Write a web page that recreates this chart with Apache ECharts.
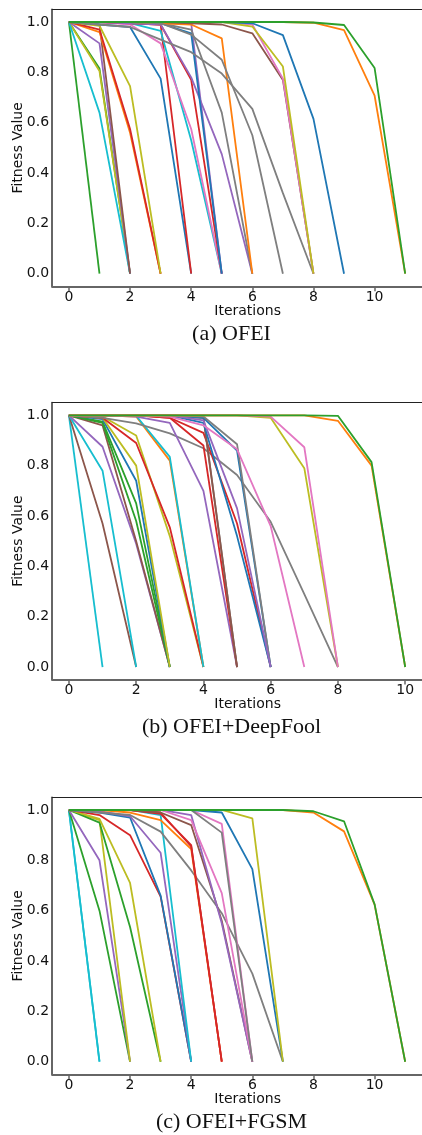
<!DOCTYPE html>
<html><head><meta charset="utf-8">
<script src="https://cdn.jsdelivr.net/npm/echarts@6/dist/echarts.min.js"></script>
<style>html,body{margin:0;padding:0;background:#fff}#c{width:422px;height:1135px}</style>
</head><body><div id="c"></div>
<script>
// matplotlib tab10 palette
const tab10 = {
  blue:'#1f77b4', orange:'#ff7f0e', green:'#2ca02c', red:'#d62728', purple:'#9467bd',
  brown:'#8c564b', pink:'#e377c2', gray:'#7f7f7f', olive:'#bcbd22', cyan:'#17becf'
};

const xTicks = [0, 2, 4, 6, 8, 10];
const yTicks = [0, 0.2, 0.4, 0.6, 0.8, 1.0];
const captions = ['(a) OFEI', '(b) OFEI+DeepFool', '(c) OFEI+FGSM'];

// (a) OFEI — fitness value per iteration (index = iteration)
const ofeiColors = ['green','green','olive','cyan','purple','brown','orange','red','olive','blue',
  'red','cyan','pink','red','purple','purple','blue','gray','orange','gray','gray',
  'brown','pink','olive','blue','orange','green'];
const ofeiValues = [
  [1, 0],
  [1, 0.815, 0],
  [1, 0.805, 0],
  [1, 0.64, 0],
  [1, 0.915, 0],
  [1, 0.99, 0],
  [1, 0.96, 0.56, 0],
  [1, 0.97, 0.575, 0],
  [1, 0.985, 0.745, 0],
  [1, 0.99, 0.98, 0.775, 0],
  [1, 1, 0.995, 0.99, 0],
  [1, 1, 0.995, 0.965, 0.53, 0],
  [1, 1, 0.99, 0.915, 0.575, 0],
  [1, 1, 0.995, 0.99, 0.77, 0],
  [1, 1, 0.995, 0.99, 0.78, 0.475, 0],
  [1, 1, 1, 0.995, 0.995, 0],
  [1, 1, 1, 0.995, 0.955, 0],
  [1, 1, 1, 0.995, 0.97, 0.64, 0],
  [1, 1, 1, 0.995, 0.99, 0.935, 0],
  [1, 1, 1, 0.995, 0.95, 0.85, 0.55, 0],
  [1, 0.99, 0.98, 0.93, 0.88, 0.795, 0.655, 0.32, 0],
  [1, 1, 1, 1, 0.995, 0.99, 0.955, 0.77, 0],
  [1, 1, 1, 1, 1, 1, 0.99, 0.775, 0],
  [1, 1, 1, 1, 1, 1, 0.982, 0.823, 0],
  [1, 1, 1, 1, 1, 1, 0.995, 0.948, 0.615, 0],
  [1, 1, 1, 1, 1, 1, 1, 1, 0.997, 0.968, 0.707, 0],
  [1, 1, 1, 1, 1, 1, 1, 1, 0.998, 0.988, 0.817, 0]
];

// (b) OFEI+DeepFool
const deepfoolColors = ['cyan','brown','cyan','purple','brown','green','green','blue','olive','olive',
  'red','orange','cyan','gray','purple','red','red','gray','brown','blue','gray','blue','purple',
  'pink','olive','pink','orange','green'];
const deepfoolValues = [
  [1, 0],
  [1, 0.57, 0],
  [1, 0.78, 0],
  [1, 0.875, 0.49, 0],
  [1, 0.96, 0.5, 0],
  [1, 0.97, 0.58, 0],
  [1, 0.975, 0.65, 0],
  [1, 0.985, 0.74, 0],
  [1, 0.99, 0.8, 0],
  [1, 0.995, 0.92, 0.52, 0],
  [1, 0.99, 0.89, 0.555, 0],
  [1, 1, 0.995, 0.82, 0],
  [1, 1, 0.998, 0.835, 0],
  [1, 0.99, 0.968, 0.928, 0.869, 0.763, 0.577, 0.29, 0],
  [1, 1, 0.995, 0.97, 0.7, 0],
  [1, 1, 1, 0.99, 0.93, 0.57, 0],
  [1, 1, 1, 0.99, 0.88, 0],
  [1, 1, 1, 1, 0.995, 0],
  [1, 1, 1, 0.995, 0.99, 0],
  [1, 1, 1, 1, 0.99, 0.86, 0],
  [1, 1, 1, 1, 0.995, 0.885, 0],
  [1, 1, 1, 1, 0.97, 0.52, 0],
  [1, 1, 1, 1, 0.98, 0.63, 0],
  [1, 1, 1, 0.995, 0.96, 0.865, 0.56, 0],
  [1, 1, 1, 1, 1, 1, 0.99, 0.79, 0],
  [1, 1, 1, 1, 1, 1, 0.995, 0.873, 0],
  [1, 1, 1, 1, 1, 1, 1, 1, 0.978, 0.8, 0],
  [1, 1, 1, 1, 1, 1, 1, 1, 0.998, 0.814, 0]
];

// (c) OFEI+FGSM
const fgsmColors = ['cyan','cyan','green','purple','olive','green','olive','red','blue','purple',
  'cyan','gray','orange','red','red','brown','purple','pink','pink','gray','blue','olive','orange','green'];
const fgsmValues = [
  [1, 0],
  [1, 0],
  [1, 0.6, 0],
  [1, 0.8, 0],
  [1, 0.96, 0],
  [1, 0.95, 0.535, 0],
  [1, 0.965, 0.71, 0],
  [1, 0.98, 0.9, 0.656, 0],
  [1, 0.99, 0.97, 0.66, 0],
  [1, 0.995, 0.975, 0.83, 0],
  [1, 1, 1, 0.98, 0],
  [1, 0.99, 0.98, 0.914, 0.76, 0.59, 0.35, 0],
  [1, 1, 0.99, 0.96, 0.845, 0],
  [1, 1, 1, 0.985, 0.86, 0],
  [1, 1, 1, 0.99, 0.855, 0],
  [1, 1, 1, 0.99, 0.94, 0.56, 0],
  [1, 1, 1, 1, 0.98, 0.55, 0],
  [1, 1, 1, 1, 0.96, 0.67, 0],
  [1, 1, 1, 1, 1, 0.945, 0],
  [1, 1, 1, 1, 1, 0.91, 0],
  [1, 1, 1, 1, 1, 0.99, 0.765, 0],
  [1, 1, 1, 1, 1, 1, 0.967, 0],
  [1, 1, 1, 1, 1, 1, 1, 1, 0.99, 0.915, 0.624, 0],
  [1, 1, 1, 1, 1, 1, 1, 1, 0.995, 0.955, 0.625, 0]
];

const panels = [
  {colors: ofeiColors, values: ofeiValues, xMin: -0.55, xMax: 11.55, top: 9.4, width: 371.5},
  {colors: deepfoolColors, values: deepfoolValues, xMin: -0.5, xMax: 10.5, top: 402.7, width: 372.1},
  {colors: fgsmColors, values: fgsmValues, xMin: -0.55, xMax: 11.55, top: 797.4, width: 372.3}
];

const LEFT = 52.1, HEIGHT = 276.9;
const spine = '#666';
const sans = 'DejaVu Sans';

const grid = [], xAxis = [], yAxis = [], series = [], graphic = [];
panels.forEach((p, k) => {
  grid.push({left: LEFT, top: p.top, width: p.width, height: HEIGHT, containLabel: false});
  // bottom axis with ticks and labels
  xAxis.push({gridIndex: k, type: 'value', position: 'bottom', min: p.xMin, max: p.xMax,
    axisLine: {show: true, onZero: false, lineStyle: {color: spine, width: 2}},
    axisTick: {show: true, customValues: xTicks, length: 5, lineStyle: {color: spine, width: 1.5}},
    axisLabel: {customValues: xTicks, margin: 4, fontSize: 14, fontFamily: sans, color: '#111'},
    splitLine: {show: false}});
  // top frame line
  xAxis.push({gridIndex: k, type: 'value', position: 'top', min: p.xMin, max: p.xMax,
    axisLine: {show: true, onZero: false, lineStyle: {color: '#222', width: 1}},
    axisTick: {show: false}, axisLabel: {show: false}, splitLine: {show: false}});
  yAxis.push({gridIndex: k, type: 'value', min: -0.05, max: 1.05,
    axisLine: {show: true, onZero: false, lineStyle: {color: spine, width: 2}},
    axisTick: {show: false},
    axisLabel: {customValues: yTicks, formatter: v => v.toFixed(1), margin: 3,
      fontSize: 14, fontFamily: sans, color: '#111'},
    splitLine: {show: false}});
  p.values.forEach((vals, j) => {
    const c = tab10[p.colors[j]];
    series.push({type: 'line', xAxisIndex: 2 * k, yAxisIndex: k,
      data: vals.map((v, i) => [i, v]), symbol: 'none', showSymbol: false,
      lineStyle: {color: c, width: 1.8}, itemStyle: {color: c}, silent: true, animation: false});
  });
  const bottom = p.top + HEIGHT;
  graphic.push({type: 'text', x: 18.3, y: p.top + HEIGHT / 2, rotation: Math.PI / 2,
    style: {text: 'Fitness Value', fontSize: 14, fontFamily: sans, fill: '#111', align: 'center', verticalAlign: 'middle'}});
  graphic.push({type: 'text', x: 247.6, y: bottom + 25,
    style: {text: 'Iterations', fontSize: 14, fontFamily: sans, fill: '#111', align: 'center', verticalAlign: 'middle'}});
  graphic.push({type: 'text', x: 231.5, y: bottom + 47.5,
    style: {text: captions[k], fontSize: 22, fontFamily: 'Liberation Serif', fill: '#111', align: 'center', verticalAlign: 'middle'}});
});

const chart = echarts.init(document.getElementById('c'));
chart.setOption({animation: false, backgroundColor: '#fff', grid, xAxis, yAxis, series, graphic});
</script>
</body></html>
